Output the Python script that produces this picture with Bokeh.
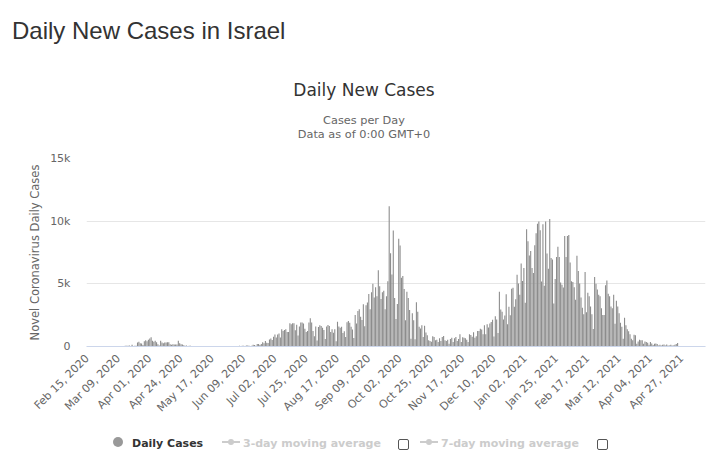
import math

import pandas as pd
from bokeh.embed import file_html
from bokeh.layouts import column
from bokeh.models import ColumnDataSource, Div, FixedTicker, Range1d
from bokeh.plotting import figure
from bokeh.resources import INLINE

first_day = "2020-02-15"

# daily new cases, one list per month
cases_2020_02 = [0, 0, 0, 0, 0, 0, 1, 0, 0, 0, 0, 0, 1, 1, 0]
cases_2020_03 = [0, 2, 4, 3, 1, 2, 2, 4, 11, 14,
                 20, 22, 34, 50, 58, 51, 79, 40,
                 130, 30, 55, 55, 320, 370, 265, 240, 120, 425, 505, 425, 530]
cases_2020_04 = [640, 745, 450, 370, 450, 345, 185, 80, 450, 320,
                 265, 320, 320, 345, 345, 185, 133, 185, 160, 160,
                 160, 450, 265, 185, 160, 105, 60, 80, 40, 50]
cases_2020_05 = [55, 30, 20, 40, 15, 25, 30, 12, 18, 10,
                 20, 15, 8, 12, 30, 10, 16, 5, 12, 20,
                 8, 30, 15, 20, 8, 15, 10, 25, 17, 40, 35]
cases_2020_06 = [20, 30, 15, 40, 25, 55, 30, 55, 55, 40,
                 80, 80, 55, 40, 55, 137, 110, 60, 190, 190,
                 120, 190, 330, 250, 440, 300, 275, 550, 630, 520]
cases_2020_07 = [770, 960, 710, 960, 1040, 710, 1370, 1230, 1320, 1370,
                 1150, 1150, 1860, 1780, 1860, 1860, 1290, 1730, 880, 1590,
                 1920, 1920, 1840, 1420, 1150, 1230, 1920, 2250, 1920, 1230, 820]
cases_2020_08 = [1590, 470, 1560, 1700, 1640, 1500, 1310, 600, 1590, 1720,
                 1640, 1150, 1370, 1100, 1370, 410, 1970, 1590, 1500, 1570,
                 1080, 1220, 760, 1940, 2030, 1890, 1570, 1350, 680, 2510, 1840]
cases_2020_09 = [2840, 2970, 2380, 2110, 3380, 1620, 3290, 3510, 4190, 2970,
                 4320, 5000, 3915, 4725, 4000, 6075, 4800, 3780, 4320, 4455,
                 2970, 4000, 5200, 11200, 7450, 5750, 9260, 3860, 2190, 3400]
cases_2020_10 = [8590, 8050, 5480, 5620, 4590, 2100, 4370, 3860, 2920, 620,
                 2650, 2100, 570, 3540, 2780, 1570, 1430, 1700, 760, 1650,
                 1110, 890, 490, 430, 380, 810, 760, 490, 540, 350, 650]
cases_2020_11 = [430, 760, 840, 490, 430, 540, 220, 600, 700, 350,
                 650, 750, 430, 590, 970, 350, 730, 700, 650, 540,
                 350, 970, 910, 780, 1130, 700, 810, 1240, 1240, 1425]
cases_2020_12 = [1350, 970, 1690, 970, 1775, 1510, 1830, 1960, 2125, 800,
                 2420, 2150, 1075, 4360, 2960, 2770, 2150, 2475, 4170, 1775,
                 3170, 2500, 4600, 4680, 3170, 3770, 5730, 5030, 4120, 6620, 5220]
cases_2021_01 = [6270, 3500, 9360, 8390, 7260, 7610, 6270, 5860, 8070, 9040,
                 9790, 9980, 9280, 5190, 9760, 4840, 9980, 7420, 6210, 10170,
                 7070, 6940, 3440, 5380, 7150, 7960, 7150, 5110, 4920, 4710, 8820]
cases_2021_02 = [7150, 8820, 8900, 6700, 5200, 5150, 4730, 3730, 7240, 6020,
                 5020, 3900, 3100, 2570, 5940, 2730, 4290, 4000, 3190, 2570,
                 1400, 5540, 5000, 4540, 4130, 4000, 3050, 2510]
cases_2021_03 = [2510, 4890, 5270, 4210, 4000, 3190, 3050, 4130, 1810, 3650,
                 3190, 2650, 1890, 1570, 620, 2300, 1700, 1380, 1215, 970,
                 620, 490, 945, 890, 215, 405, 540, 490, 490, 215, 405]
cases_2021_04 = [350, 300, 135, 350, 240, 110, 215, 240, 190, 80,
                 135, 80, 135, 160, 80, 160, 80, 80, 135, 80,
                 80, 135, 190, 270, 35, 20, 30, 25, 15, 30]
cases_2021_05 = [20, 30, 25, 15, 35, 20, 10, 25, 30, 15, 20, 25, 10, 18]

tick_labels = ["Feb 15, 2020", "Mar 09, 2020", "Apr 01, 2020", "Apr 24, 2020",
               "May 17, 2020", "Jun 09, 2020", "Jul 02, 2020", "Jul 25, 2020",
               "Aug 17, 2020", "Sep 09, 2020", "Oct 02, 2020", "Oct 25, 2020",
               "Nov 17, 2020", "Dec 10, 2020", "Jan 02, 2021", "Jan 25, 2021",
               "Feb 17, 2021", "Mar 12, 2021", "Apr 04, 2021", "Apr 27, 2021"]
tick_every = 23

y_ticks = [0, 5000, 10000, 15000]
y_tick_labels = ["0", "5k", "10k", "15k"]


def plot():
    daily_cases = (cases_2020_02 + cases_2020_03 + cases_2020_04 + cases_2020_05
                   + cases_2020_06 + cases_2020_07 + cases_2020_08 + cases_2020_09
                   + cases_2020_10 + cases_2020_11 + cases_2020_12 + cases_2021_01
                   + cases_2021_02 + cases_2021_03 + cases_2021_04 + cases_2021_05)
    dates = pd.date_range(first_day, periods=len(daily_cases))

    source = ColumnDataSource(data=dict(day=list(range(len(daily_cases))),
                                        date=[d.strftime("%b %d, %Y") for d in dates],
                                        cases=daily_cases))

    header = Div(text="""
<div style="position:relative;width:710px;height:150px;">
 <div style="position:absolute;left:12px;top:18.7px;font-family:'Liberation Sans';font-size:24px;line-height:24px;color:#333333;white-space:nowrap;">Daily New Cases in Israel</div>
 <div style="position:absolute;left:164px;top:82.3px;width:400px;text-align:center;font-family:'DejaVu Sans';font-size:17px;line-height:17px;color:#333333;">Daily New Cases</div>
 <div style="position:absolute;left:164px;top:115.4px;width:400px;text-align:center;font-family:'DejaVu Sans';font-size:11.3px;line-height:11.3px;color:#666666;">Cases per Day</div>
 <div style="position:absolute;left:164px;top:129.4px;width:400px;text-align:center;font-family:'DejaVu Sans';font-size:11.3px;line-height:11.3px;color:#666666;">Data as of 0:00 GMT+0</div>
</div>""", width=710, height=150, margin=(0, 0, 0, 0))

    p = figure(width=710, height=272,
               x_range=Range1d(-0.5, len(daily_cases) - 0.5),
               y_range=Range1d(0, 15000),
               output_backend="svg", toolbar_location=None,
               min_border_left=86, min_border_right=5,
               min_border_top=8, min_border_bottom=76,
               margin=(0, 0, 0, 0))
    p.outline_line_color = None
    p.background_fill_color = "white"

    p.vbar(x="day", top="cases", width=0.8, source=source,
           fill_color="#8c8c8c", line_color=None)

    x_ticks = [i * tick_every for i in range(len(tick_labels))]
    p.xaxis.ticker = FixedTicker(ticks=x_ticks)
    p.xaxis.major_label_overrides = dict(zip(x_ticks, tick_labels))
    p.xaxis.major_label_orientation = math.pi / 4
    p.xaxis.major_label_text_font = "DejaVu Sans"
    p.xaxis.major_label_text_font_size = "11px"
    p.xaxis.major_label_text_color = "#666666"
    p.xaxis.major_label_standoff = 4
    p.xaxis.axis_line_color = "#ccd6eb"
    p.xaxis.major_tick_line_color = None
    p.xaxis.minor_tick_line_color = None
    p.xgrid.grid_line_color = None

    p.yaxis.ticker = FixedTicker(ticks=y_ticks)
    p.yaxis.major_label_overrides = dict(zip(y_ticks, y_tick_labels))
    p.yaxis.major_label_text_font = "DejaVu Sans"
    p.yaxis.major_label_text_font_size = "11px"
    p.yaxis.major_label_text_color = "#666666"
    p.yaxis.major_label_standoff = 10
    p.yaxis.axis_line_color = None
    p.yaxis.major_tick_line_color = None
    p.yaxis.minor_tick_line_color = None
    p.yaxis.axis_label = "Novel Coronavirus Daily Cases"
    p.yaxis.axis_label_text_font = "DejaVu Sans"
    p.yaxis.axis_label_text_font_size = "11.5px"
    p.yaxis.axis_label_text_font_style = "normal"
    p.yaxis.axis_label_text_color = "#666666"
    p.yaxis.axis_label_standoff = 5
    p.ygrid.grid_line_color = "#e6e6e6"

    legend = Div(text="""
<div style="position:relative;width:710px;height:40px;font-family:'DejaVu Sans';font-size:11px;line-height:11px;font-weight:bold;">
 <div style="position:absolute;left:113px;top:15px;width:10px;height:10px;border-radius:50%;background:#999999;"></div>
 <div style="position:absolute;left:132px;top:15.7px;color:#333333;white-space:nowrap;">Daily Cases</div>
 <div style="position:absolute;left:222px;top:19px;width:18px;height:2px;background:#cccccc;"></div>
 <div style="position:absolute;left:228px;top:17px;width:6px;height:6px;border-radius:50%;background:#cccccc;"></div>
 <div style="position:absolute;left:243px;top:15.7px;color:#cccccc;white-space:nowrap;">3-day moving average</div>
 <div style="position:absolute;left:398px;top:17px;width:11px;height:11px;border:1px solid #555555;border-radius:2px;background:white;"></div>
 <div style="position:absolute;left:420px;top:19px;width:18px;height:2px;background:#cccccc;"></div>
 <div style="position:absolute;left:426px;top:17px;width:6px;height:6px;border-radius:50%;background:#cccccc;"></div>
 <div style="position:absolute;left:441px;top:15.7px;color:#cccccc;white-space:nowrap;">7-day moving average</div>
 <div style="position:absolute;left:597px;top:17px;width:11px;height:11px;border:1px solid #555555;border-radius:2px;background:white;"></div>
</div>""", width=710, height=40, margin=(0, 0, 0, 0))

    layout = column(header, p, legend, spacing=0)
    open("out.html", "w").write(file_html(layout, INLINE))


plot()
